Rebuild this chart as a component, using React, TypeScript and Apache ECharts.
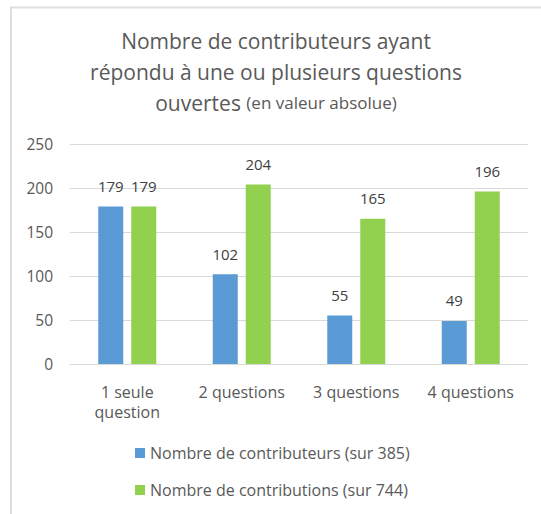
import React, { useEffect, useRef } from "react";
import * as echarts from "echarts";

const categories = ["1 seule\nquestion", "2 questions", "3 questions", "4 questions"];
const contributeurs = [179, 102, 55, 49];
const contributions = [179, 204, 165, 196];
const seriesNames = ["Nombre de contributeurs (sur 385)", "Nombre de contributions (sur 744)"];

const FONT = "'Open Sans', 'Noto Sans', sans-serif";
const GRAY = "#595959";

export default function App() {
  const ref = useRef<HTMLDivElement>(null);
  useEffect(() => {
    const chart = echarts.init(ref.current!, null, { renderer: "svg" });
    chart.setOption({
      animation: false,
      backgroundColor: "#ffffff",
      textStyle: { fontFamily: FONT },
      graphic: [
        {
          type: "rect",
          shape: { x: 11, y: 7.5, width: 560, height: 540 },
          style: { fill: "none", stroke: "#dedede", lineWidth: 2 },
          silent: true,
        },
      ],
      title: {
        left: 271,
        top: 20,
        textAlign: "center",
        text: "Nombre de contributeurs ayant\nrépondu à une ou plusieurs questions\nouvertes {s|(en valeur absolue)}",
        textStyle: {
          fontFamily: FONT,
          fontSize: 21,
          fontWeight: "normal",
          color: GRAY,
          lineHeight: 31,
          rich: {
            s: { fontFamily: FONT, fontSize: 17, color: GRAY, lineHeight: 31 },
          },
        },
      },
      legend: {
        orient: "vertical",
        left: 130,
        top: 440,
        itemWidth: 10,
        itemHeight: 10,
        itemGap: 21,
        icon: "rect",
        textStyle: { fontFamily: FONT, fontSize: 16, lineHeight: 16, color: GRAY },
      },
      grid: { left: 70, right: 13, top: 144, bottom: 150 },
      xAxis: {
        type: "category",
        data: categories,
        axisLine: { lineStyle: { color: "#d9d9d9", width: 1 } },
        axisTick: { show: false },
        axisLabel: { fontFamily: FONT, fontSize: 16, color: GRAY, lineHeight: 20, margin: 18 },
      },
      yAxis: {
        type: "value",
        min: 0,
        max: 250,
        interval: 50,
        axisLine: { show: false },
        axisTick: { show: false },
        splitLine: { lineStyle: { color: "#d9d9d9", width: 1 } },
        axisLabel: { fontFamily: FONT, fontSize: 15.5, color: GRAY, margin: 17 },
      },
      series: [
        {
          name: seriesNames[0],
          type: "bar",
          data: contributeurs,
          barWidth: 25,
          barGap: "32%",
          itemStyle: { color: "#5B9BD5" },
          label: { show: true, position: "top", distance: 13, fontFamily: FONT, fontSize: 15, color: "#404040" },
        },
        {
          name: seriesNames[1],
          type: "bar",
          data: contributions,
          barWidth: 25,
          barGap: "32%",
          itemStyle: { color: "#92D050" },
          label: { show: true, position: "top", distance: 13, fontFamily: FONT, fontSize: 15, color: "#404040" },
        },
      ],
    });
    return () => chart.dispose();
  }, []);
  return (
    <div
      ref={ref}
      style={{ position: "absolute", left: 0, top: 0, width: 541, height: 514 }}
    />
  );
}
